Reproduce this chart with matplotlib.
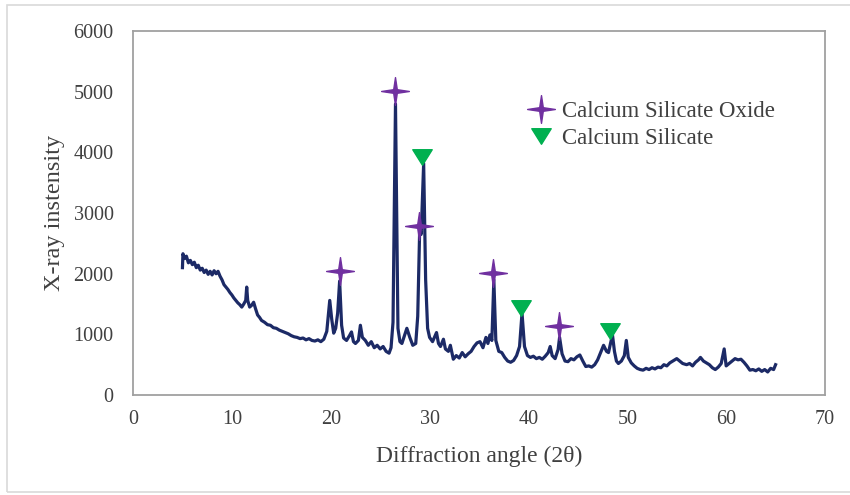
import matplotlib
matplotlib.use("Agg")
import matplotlib.pyplot as plt
from matplotlib.path import Path
from matplotlib.patches import Rectangle

plt.rcParams["font.family"] = ["Liberation Serif", "DejaVu Serif"]

# XRD scan: 2-theta (deg) and counts
two_theta = [
    5.0, 5.05, 5.2, 5.4, 5.6, 5.8, 6.0, 6.2, 6.4, 6.6, 6.8, 7.0, 7.2, 7.4, 7.6, 7.8,
    8.0, 8.2, 8.4, 8.6, 8.8, 9.0, 9.2, 9.4, 9.6, 9.8, 10.0, 10.2, 10.4, 10.6, 10.8,
    11.0, 11.2, 11.4, 11.5, 11.6, 11.8, 12.0, 12.2, 12.4, 12.6, 12.8, 13.0, 13.3,
    13.6, 13.9, 14.2, 14.5, 14.8, 15.1, 15.4, 15.7, 16.0, 16.3, 16.6, 16.9, 17.2,
    17.5, 17.8, 18.1, 18.4, 18.7, 19.0, 19.3, 19.6, 19.9, 20.1, 20.3, 20.5, 20.7,
    20.9, 21.1, 21.3, 21.6, 21.9, 22.1, 22.3, 22.5, 22.8, 23.0, 23.2, 23.5, 23.8,
    24.1, 24.4, 24.7, 25.0, 25.3, 25.6, 25.9, 26.1, 26.3, 26.55, 26.8, 27.0, 27.2,
    27.4, 27.7, 28.0, 28.3, 28.6, 28.8, 29.0, 29.15, 29.4, 29.6, 29.8, 30.0, 30.3,
    30.7, 30.9, 31.1, 31.4, 31.6, 31.9, 32.1, 32.4, 32.7, 33.0, 33.3, 33.6, 33.9,
    34.2, 34.5, 34.8, 35.1, 35.4, 35.7, 35.9, 36.1, 36.3, 36.5, 36.7, 37.0, 37.3,
    37.6, 37.9, 38.2, 38.5, 38.8, 39.1, 39.35, 39.6, 39.9, 40.2, 40.5, 40.8, 41.1,
    41.4, 41.7, 42.0, 42.2, 42.4, 42.7, 43.0, 43.15, 43.4, 43.7, 44.0, 44.3, 44.6,
    44.9, 45.2, 45.5, 45.8, 46.1, 46.4, 46.7, 47.0, 47.3, 47.6, 47.9, 48.1, 48.3,
    48.5, 48.7, 48.9, 49.1, 49.4, 49.7, 49.9, 50.1, 50.4, 50.7, 51.0, 51.3, 51.6,
    51.9, 52.2, 52.5, 52.8, 53.1, 53.4, 53.7, 54.0, 54.3, 54.6, 55.0, 55.3, 55.6,
    56.0, 56.3, 56.6, 56.9, 57.2, 57.4, 57.7, 58.0, 58.3, 58.6, 58.9, 59.2, 59.5,
    59.8, 60.0, 60.3, 60.6, 60.9, 61.2, 61.5, 61.8, 62.1, 62.4, 62.7, 63.0, 63.3,
    63.6, 63.9, 64.2, 64.5, 64.8, 65.0,
]
intensity = [
    2100, 2330, 2250, 2290, 2180, 2220, 2150, 2190, 2100, 2140, 2060, 2090, 2020, 2060, 1990, 2040,
    1980, 2050, 2000, 2040, 1960, 1900, 1820, 1780, 1740, 1690, 1650, 1600, 1560, 1520, 1490,
    1450, 1500, 1560, 1780, 1560, 1450, 1480, 1530, 1420, 1320, 1280, 1230, 1200,
    1160, 1150, 1110, 1100, 1070, 1050, 1030, 1010, 980, 960, 950, 930, 940,
    910, 930, 900, 890, 910, 880, 920, 1050, 1560, 1250, 1020, 1100, 1350,
    1880, 1150, 940, 900, 980, 1040, 880, 850, 900, 1150, 950, 900, 820,
    880, 780, 820, 760, 800, 720, 690, 780, 1200, 4800, 1100, 880, 850,
    950, 1100, 950, 820, 850, 1300, 2750, 2650, 3820, 1900, 1100, 950, 880,
    1030, 850, 800, 920, 760, 720, 820, 590, 650, 610, 700, 630, 680,
    720, 800, 860, 880, 780, 950, 850, 990, 900, 1900, 900, 720, 700,
    620, 560, 540, 570, 650, 800, 1350, 800, 650, 620, 640, 600, 620,
    590, 640, 700, 800, 650, 600, 750, 950, 680, 560, 550, 600, 580,
    630, 660, 560, 470, 480, 460, 500, 580, 700, 820, 720, 700, 850,
    990, 720, 560, 520, 560, 650, 900, 620, 530, 480, 440, 420, 410,
    440, 420, 450, 430, 460, 450, 500, 480, 530, 560, 600, 560, 520,
    500, 520, 480, 540, 580, 620, 560, 530, 500, 450, 420, 460, 520,
    760, 480, 520, 560, 600, 580, 590, 540, 480, 410, 420, 400, 430,
    390, 420, 380, 440, 420, 500,
]

# phase markers placed just above the matching peaks
oxide_theta = [20.95, 26.5, 28.9, 36.4, 43.05]
oxide_level = [2040, 5020, 2790, 2020, 1130]
silicate_theta = [29.25, 39.25, 48.25]
silicate_level = [3920, 1440, 1050]

LINE_COLOR = "#1c2a66"
OXIDE_COLOR = "#7030a0"
SILICATE_COLOR = "#00b050"
TEXT_COLOR = "#404040"

# thin four-pointed star
star = Path([(0, 1), (0.13, 0.13), (1, 0), (0.13, -0.13), (0, -1),
             (-0.13, -0.13), (-1, 0), (-0.13, 0.13), (0, 1)], closed=True)
tri = Path([(-1, 0.8), (1, 0.8), (0, -0.8), (-1, 0.8)], closed=True)

fig = plt.figure(figsize=(8.5, 4.95), dpi=100)
fig.patch.set_facecolor("white")
fig.patches.append(Rectangle((0.008, 0.006), 1.1, 0.984, transform=fig.transFigure,
                             fill=False, edgecolor="#d9d9d9", linewidth=1.2))

ax = fig.add_axes([0.1565, 0.202, 0.8141, 0.735])
ax.plot(two_theta, intensity, color=LINE_COLOR, linewidth=2.3, zorder=2)
ax.plot(oxide_theta, oxide_level, linestyle="none", marker=star, markersize=20,
        color=OXIDE_COLOR, label="Calcium Silicate Oxide", zorder=3)
ax.plot(silicate_theta, silicate_level, linestyle="none", marker=tri, markersize=14,
        color=SILICATE_COLOR, label="Calcium Silicate", zorder=3)

ax.set_xlim(0, 70)
ax.set_ylim(0, 6000)
ax.set_xticks(range(0, 71, 10))
ax.set_yticks(range(0, 6001, 1000))
ax.tick_params(length=0, labelsize=14.5, labelcolor=TEXT_COLOR)
ax.tick_params(axis="y", pad=14)
ax.tick_params(axis="x", pad=11)
for sp in ax.spines.values():
    sp.set_color("#a0a0a0")
    sp.set_linewidth(1.3)

ax.set_xlabel("Diffraction angle (2θ)", fontsize=17, color=TEXT_COLOR, labelpad=12)
ax.set_ylabel("X-ray instensity", fontsize=17.5, color=TEXT_COLOR, labelpad=6)

ax.legend(loc="upper left", bbox_to_anchor=(0.6225, 0.797), bbox_transform=fig.transFigure,
          frameon=False, fontsize=16.5, handlelength=1.0, handletextpad=0.45,
          labelspacing=0.3, borderpad=0, borderaxespad=0, labelcolor=TEXT_COLOR)

fig.savefig("out.png", dpi=100, facecolor="white")
